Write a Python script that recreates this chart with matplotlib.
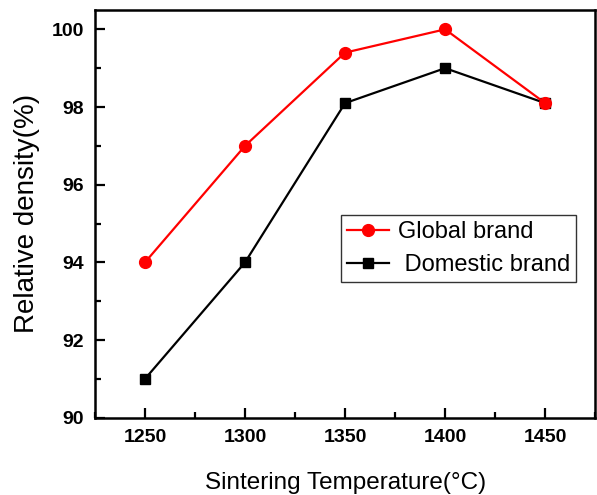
import matplotlib
matplotlib.use('Agg')
import matplotlib.pyplot as plt
from matplotlib.ticker import MultipleLocator

plt.rcParams['font.family'] = ['Liberation Sans', 'DejaVu Sans']

temps = [1250, 1300, 1350, 1400, 1450]
global_brand = [94.0, 97.0, 99.4, 100.0, 98.1]
domestic_brand = [91.0, 94.0, 98.1, 99.0, 98.1]

fig = plt.figure(figsize=(5.97, 4.95), dpi=100)
ax = fig.add_axes([0.159, 0.156, 0.838, 0.824])

ax.plot(temps, domestic_brand, color='black', marker='s', markersize=7.5, lw=1.6,
        label=' Domestic brand', zorder=3)
ax.plot(temps, global_brand, color='red', marker='o', markersize=8.5, lw=1.6,
        label='Global brand', zorder=4)

ax.set_xlim(1225, 1475)
ax.set_ylim(90, 100.5)
ax.xaxis.set_major_locator(MultipleLocator(50))
ax.xaxis.set_minor_locator(MultipleLocator(25))
ax.yaxis.set_major_locator(MultipleLocator(2))
ax.yaxis.set_minor_locator(MultipleLocator(1))
ax.tick_params(which='both', direction='in', width=1.6, top=False, right=False)
ax.tick_params(which='major', length=7, labelsize=14, pad=8)
ax.tick_params(which='minor', length=4)
for lab in ax.get_xticklabels() + ax.get_yticklabels():
    lab.set_fontweight('bold')
for sp in ax.spines.values():
    sp.set_linewidth(1.8)

ax.set_xlabel('Sintering Temperature(°C)', fontsize=17.5, labelpad=19)
ax.set_ylabel('Relative density(%)', fontsize=20, labelpad=8)

handles, labels = ax.get_legend_handles_labels()
leg = ax.legend(handles[::-1], labels[::-1], loc='upper left',
                bbox_to_anchor=(0.492, 0.496), fontsize=17, frameon=True,
                fancybox=False, edgecolor='black', handlelength=1.8,
                handletextpad=0.35, borderpad=0.25, labelspacing=0.45,
                borderaxespad=0)
leg.get_frame().set_linewidth(1.0)

fig.savefig('out.png', dpi=100)
